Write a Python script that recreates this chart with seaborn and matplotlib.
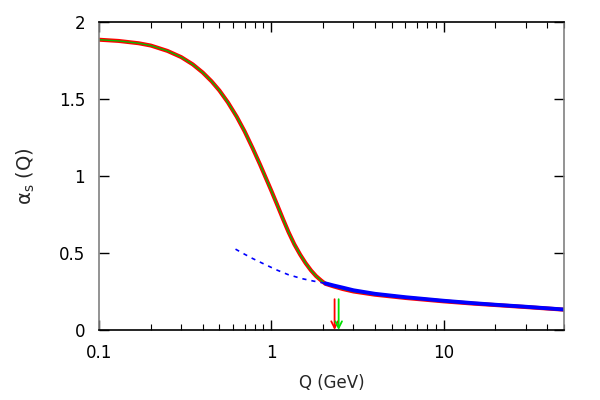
import numpy as np
import pandas as pd
import matplotlib
matplotlib.use("Agg")
import matplotlib.pyplot as plt
import seaborn as sns
from matplotlib.ticker import LogLocator, NullFormatter

# значения
q_ir = [0.1, 0.13, 0.17, 0.2, 0.25, 0.3, 0.35, 0.4, 0.45, 0.5, 0.56, 0.63, 0.7,
        0.78, 0.86, 0.94, 1.0, 1.08, 1.17, 1.26, 1.36, 1.47, 1.58, 1.7, 1.82, 1.94,
        2.06, 2.3, 2.6, 3.0, 4.0, 6.0, 10.0, 15.0, 20.0, 30.0, 50.0]
a_ir = [1.885, 1.877, 1.862, 1.847, 1.812, 1.772, 1.725, 1.672, 1.615, 1.555, 1.478, 1.385, 1.29,
        1.18, 1.075, 0.975, 0.905, 0.815, 0.72, 0.635, 0.557, 0.49, 0.435, 0.387, 0.35, 0.323,
        0.30, 0.283, 0.266, 0.250, 0.229, 0.208, 0.186, 0.171, 0.162, 0.149, 0.132]

q_pert = [2.06, 2.3, 2.6, 3.0, 4.0, 6.0, 10.0, 15.0, 20.0, 30.0, 50.0]
a_pert = [0.303, 0.289, 0.275, 0.258, 0.235, 0.213, 0.19, 0.174, 0.164, 0.151, 0.133]

q_dash = [0.62, 0.7, 0.78, 0.86, 0.95, 1.08, 1.25, 1.5, 1.75, 2.06]
a_dash = [0.525, 0.492, 0.464, 0.441, 0.418, 0.389, 0.36, 0.334, 0.318, 0.303]

q_arrow = [2.33, 2.46]   # красная и зелёная стрелки
arrow_top = 0.2

ir = pd.DataFrame({"Q": q_ir, "alpha": a_ir})
pert = pd.DataFrame({"Q": q_pert, "alpha": a_pert})
dash = pd.DataFrame({"Q": q_dash, "alpha": a_dash})

sns.set_style("ticks")
plt.rcParams["font.family"] = ["DejaVu Sans"]
plt.rcParams["font.size"] = 12

fig = plt.figure(figsize=(6, 4), dpi=100)
ax = fig.add_axes([0.165, 0.175, 0.775, 0.77])

sns.lineplot(data=ir, x="Q", y="alpha", color="#ff0000", lw=2.9, ax=ax, sort=False)
sns.lineplot(data=ir, x="Q", y="alpha", color="#00c000", lw=1.0, ax=ax, sort=False)
sns.lineplot(data=dash, x="Q", y="alpha", color="#0000ff", lw=1.2, ax=ax, sort=False,
             linestyle=(0, (2.5, 3)))
sns.lineplot(data=pert, x="Q", y="alpha", color="#0000ff", lw=2.8, ax=ax, sort=False)

for q, c in zip(q_arrow, ["#ff0000", "#00e000"]):
    ax.annotate("", xy=(q, 0), xytext=(q, arrow_top),
                arrowprops=dict(arrowstyle="->", color=c, lw=1.3,
                                mutation_scale=12, shrinkA=0, shrinkB=0))

ax.set_xscale("log")
ax.set_xlim(0.1, 50)
ax.set_ylim(0, 2)
ax.set_xticks([0.1, 1, 10])
ax.set_xticklabels(["0.1", "1", "10"])
ax.xaxis.set_minor_locator(LogLocator(base=10, subs=np.arange(2, 10)))
ax.xaxis.set_minor_formatter(NullFormatter())
ax.set_yticks([0, 0.5, 1, 1.5, 2])
ax.set_yticklabels(["0", "0.5", "1", "1.5", "2"])

ax.tick_params(which="both", direction="in", top=True, right=True, colors="#000000",
               labelsize=12)
ax.tick_params(axis="x", which="major", pad=10)
ax.tick_params(axis="y", which="major", pad=10)
ax.tick_params(which="major", length=7, width=1)
ax.tick_params(which="minor", length=4, width=0.8)
for side in ["left", "right"]:
    ax.spines[side].set_color("#808080")
for side in ["top", "bottom"]:
    ax.spines[side].set_color("#000000")
for s in ax.spines.values():
    s.set_linewidth(1.2)

ax.set_xlabel("Q (GeV)", fontsize=12, labelpad=9)
ax.set_ylabel(r"α$_{\rm s}$ (Q)", fontsize=14, labelpad=16)

fig.savefig("out.png", dpi=100)
